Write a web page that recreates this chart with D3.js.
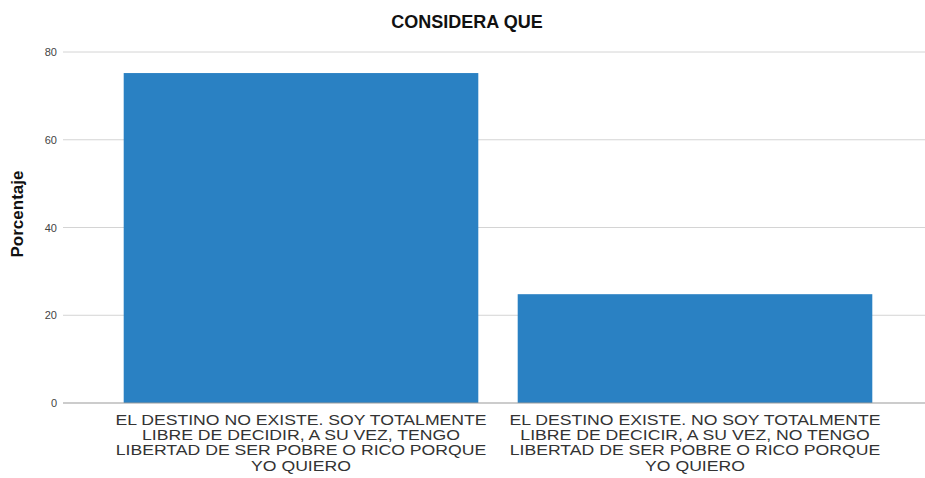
<!DOCTYPE html>
<html>
<head>
<meta charset="utf-8">
<script src="https://cdn.jsdelivr.net/npm/d3@7"></script>
<style>
  body { margin: 0; background: #fff; }
  text { font-family: "Liberation Sans", Arial, sans-serif; }
</style>
</head>
<body>
<svg id="chart" width="925" height="478"></svg>
<script>
var categories = [
  ['EL DESTINO NO EXISTE. SOY TOTALMENTE', 'LIBRE DE DECIDIR, A SU VEZ, TENGO', 'LIBERTAD DE SER POBRE O RICO PORQUE', 'YO QUIERO'],
  ['EL DESTINO EXISTE. NO SOY TOTALMENTE', 'LIBRE DE DECICIR, A SU VEZ, NO TENGO', 'LIBERTAD DE SER POBRE O RICO PORQUE', 'YO QUIERO']
]
var values = [75.2, 24.8]
var yTicks = [0, 20, 40, 60, 80]

var svg = d3.select('svg#chart')
  , left = 63, right = 925, top = 34, bottom = 403

var x = d3.scaleBand()
  .domain(d3.range(categories.length))
  .range([104, 892])
  .paddingInner(0.1)
  .paddingOuter(0.05)

var y = d3.scaleLinear()
  .domain([0, 80])
  .range([bottom, 52])

// gridlines
svg.append('g')
  .selectAll('line').data(yTicks.slice(1))
  .enter().append('line')
  .attr('x1', left).attr('x2', right)
  .attr('y1', function(d) { return y(d) }).attr('y2', function(d) { return y(d) })
  .attr('stroke', '#d4d4d4')

// bars
svg.append('g')
  .selectAll('rect').data(values)
  .enter().append('rect')
  .attr('x', function(d, i) { return x(i) })
  .attr('width', x.bandwidth())
  .attr('y', function(d) { return y(d) })
  .attr('height', function(d) { return bottom - y(d) })
  .attr('fill', '#2a81c3')

// y axis
var yAxis = svg.append('g')
  .attr('transform', 'translate(' + left + ',0)')
  .call(d3.axisLeft(y).tickValues(yTicks).tickSize(0).tickPadding(6))
yAxis.select('.domain').attr('d', 'M0,' + top + 'V' + bottom).attr('stroke', '#999')
yAxis.selectAll('.tick text').attr('fill', '#444').style('font-size', '11px')

// x axis line
svg.append('line')
  .attr('x1', left).attr('x2', right)
  .attr('y1', bottom).attr('y2', bottom)
  .attr('stroke', '#999')

// category labels (glyphs are wide and tightly stacked in the original)
svg.append('g')
  .selectAll('text').data(categories)
  .enter().append('text')
  .attr('transform', function(d, i) { return 'translate(' + (x(i) + x.bandwidth() / 2) + ',425) scale(1.16,1)' })
  .attr('text-anchor', 'middle')
  .attr('fill', '#333')
  .style('font-size', '15.2px')
  .selectAll('tspan').data(function(d) { return d })
  .enter().append('tspan')
  .attr('x', 0)
  .attr('dy', function(d, j) { return j === 0 ? 0 : 15.2 })
  .text(function(d) { return d })

// y title
svg.append('text')
  .attr('transform', 'translate(23,214) rotate(-90)')
  .attr('text-anchor', 'middle')
  .attr('fill', '#111')
  .style('font-size', '17px')
  .style('font-weight', 'bold')
  .text('Porcentaje')

// title
svg.append('text')
  .attr('x', 467).attr('y', 27.5)
  .attr('text-anchor', 'middle')
  .attr('fill', '#111')
  .style('font-size', '18px')
  .style('font-weight', 'bold')
  .text('CONSIDERA QUE')
</script>
</body>
</html>
